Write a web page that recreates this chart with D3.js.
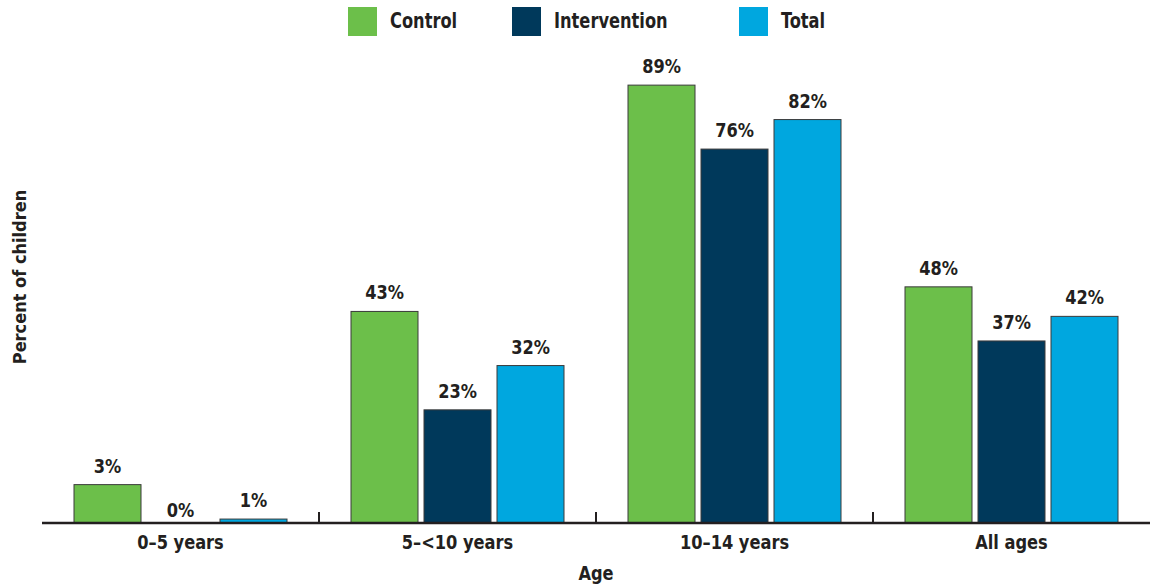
<!DOCTYPE html>
<html>
<head>
<meta charset="utf-8">
<script src="https://cdn.jsdelivr.net/npm/d3@7"></script>
<style>
  html, body { margin: 0; padding: 0; background: #fff; }
  svg { display: block; }
  text { font-family: "Liberation Sans Narrow", "DejaVu Sans Condensed", "Roboto", sans-serif; font-weight: bold; fill: #231f20; }
</style>
</head>
<body>
<svg id="chart" width="1150" height="586"></svg>
<script>
const categories = ["0–5 years", "5–<10 years", "10–14 years", "All ages"];
const seriesNames = ["Control", "Intervention", "Total"];
const seriesColors = ["#6cbf4a", "#00395b", "#00a7df"];
// bar heights as drawn in the reference (percent)
const controlValues = [7.8, 43, 89, 48];
const interventionValues = [0, 23, 76, 37];
const totalValues = [0.8, 32, 82, 42];
// printed labels
const controlLabels = ["3%", "43%", "89%", "48%"];
const interventionLabels = ["0%", "23%", "76%", "37%"];
const totalLabels = ["1%", "32%", "82%", "42%"];

const seriesValues = [controlValues, interventionValues, totalValues];
const seriesLabels = [controlLabels, interventionLabels, totalLabels];

const svg = d3.select("#chart");
const yBase = 523;

const x0 = d3.scaleBand().domain(categories).range([42, 1150]).paddingInner(0).paddingOuter(0);
const x1 = d3.scaleBand().domain(seriesNames).range([32, x0.bandwidth() - 32]).paddingInner(6 / 73).paddingOuter(0);
const y = d3.scaleLinear().domain([0, 100]).range([yBase, 31]);

const data = categories.map((c, i) => ({
  cat: c,
  vals: seriesNames.map((s, j) => ({ s, j, v: seriesValues[j][i], label: seriesLabels[j][i] }))
}));

const groups = svg.append("g").selectAll("g").data(data).join("g")
  .attr("transform", d => `translate(${x0(d.cat)},0)`);

groups.selectAll("rect").data(d => d.vals.filter(e => e.v > 0)).join("rect")
  .attr("x", d => x1(d.s))
  .attr("y", d => y(d.v))
  .attr("width", x1.bandwidth())
  .attr("height", d => yBase - y(d.v))
  .attr("fill", d => seriesColors[d.j])
  .attr("stroke", "#3a3a3a")
  .attr("stroke-width", 1);

groups.selectAll("text.lbl").data(d => d.vals).join("text")
  .attr("class", "lbl")
  .attr("text-anchor", "middle")
  .attr("transform", d => `translate(${x1(d.s) + x1.bandwidth() / 2},${d.v > 0 ? y(d.v) - 12 : yBase - 6}) scale(0.9,1)`)
  .style("font-size", "20px")
  .text(d => d.label);

// x axis
const xAxis = svg.append("g").attr("transform", `translate(0,${yBase})`);
xAxis.append("line").attr("x1", 42).attr("x2", 1150).attr("y1", 0).attr("y2", 0)
  .attr("stroke", "#231f20").attr("stroke-width", 2.5);
xAxis.selectAll("line.tick").data(categories.slice(1)).join("line")
  .attr("class", "tick")
  .attr("x1", d => x0(d)).attr("x2", d => x0(d))
  .attr("y1", 0).attr("y2", -11)
  .attr("stroke", "#231f20").attr("stroke-width", 2);
xAxis.selectAll("text").data(categories).join("text")
  .attr("text-anchor", "middle")
  .attr("transform", d => `translate(${x0(d) + x0.bandwidth() / 2},26) scale(0.95,1)`)
  .style("font-size", "19px")
  .text(d => d);

svg.append("text").attr("transform", "translate(596,580) scale(0.95,1)").attr("text-anchor", "middle")
  .style("font-size", "19px").text("Age");

svg.append("text")
  .attr("transform", `translate(26,${(yBase + 31) / 2}) rotate(-90)`)
  .attr("text-anchor", "middle")
  .style("font-size", "18px")
  .text("Percent of children");

// legend
const legendX = [348, 512, 739];
const leg = svg.append("g").selectAll("g").data(seriesNames).join("g")
  .attr("transform", (d, i) => `translate(${legendX[i]},7)`);
leg.append("rect").attr("width", 29).attr("height", 29).attr("fill", (d, i) => seriesColors[i]);
leg.append("text").attr("transform", "translate(42,21) scale(0.86,1)").style("font-size", "21px").text(d => d);
</script>
</body>
</html>
